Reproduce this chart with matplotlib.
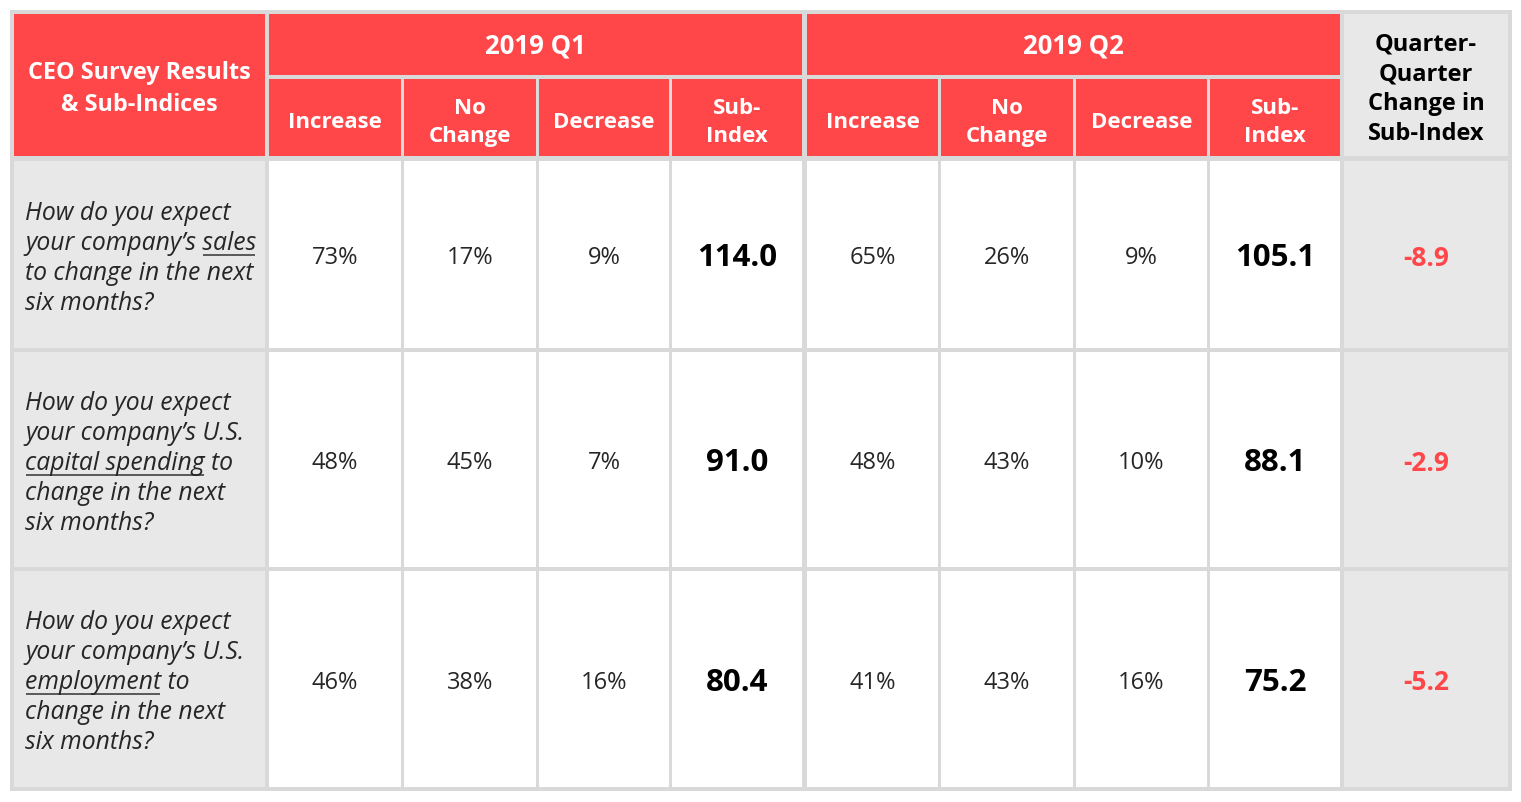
import matplotlib
matplotlib.use('Agg')
import matplotlib.pyplot as plt
from matplotlib.patches import Rectangle

# Data
quarters = ['2019 Q1', '2019 Q2']
sub_headers = ['Increase', 'No\nChange', 'Decrease', 'Sub-\nIndex']
corner_header = 'CEO Survey Results\n& Sub-Indices'
change_header = 'Quarter-\nQuarter\nChange in\nSub-Index'

# question lines, underlined word per row
questions = [
    ['How do you expect', "your company\u2019s sales", 'to change in the next', 'six months?'],
    ['How do you expect', "your company\u2019s U.S.", 'capital spending to', 'change in the next', 'six months?'],
    ['How do you expect', "your company\u2019s U.S.", 'employment to', 'change in the next', 'six months?'],
]
underlined = ['sales', 'capital spending', 'employment']

q1_increase = [73, 48, 46]
q1_nochange = [17, 45, 38]
q1_decrease = [9, 7, 16]
q1_subindex = [114.0, 91.0, 80.4]
q2_increase = [65, 48, 41]
q2_nochange = [26, 43, 43]
q2_decrease = [9, 10, 16]
q2_subindex = [105.1, 88.1, 75.2]
qq_change = [-8.9, -2.9, -5.2]

# Layout (pixels)
W, H = 1521, 803
col_x = [(14, 265), (269, 401), (404, 536), (539, 669), (672, 802),
         (807, 938), (941, 1073), (1076, 1207), (1210, 1340), (1344, 1508)]
head1 = (15, 76)
head2 = (80, 157)
row_y = [(162, 349), (353, 568), (572, 788)]

RED = '#FF474A'
GRAY = '#E8E8E8'
LINE = '#D9D9D9'
FONT = 'Open Sans'
QSIZE = 17.8

fig = plt.figure(figsize=(W / 100, H / 100), dpi=100)
ax = fig.add_axes([0, 0, 1, 1])
ax.set_xlim(0, W)
ax.set_ylim(H, 0)
ax.axis('off')


def cell(x0, x1, y0, y1, color):
    ax.add_patch(Rectangle((x0, y0), x1 - x0, y1 - y0, facecolor=color,
                           edgecolor='none'))


# table background acts as the grid lines
cell(10, 1512, 11, 792, LINE)

# header: corner
cell(col_x[0][0], col_x[0][1], head1[0], head2[1], RED)
ax.text(sum(col_x[0]) / 2, 89, corner_header, ha='center', va='center',
        color='white', fontsize=16.8, fontweight='bold', family=FONT,
        linespacing=1.42)

# header: quarters
for qi, q in enumerate(quarters):
    c0 = 1 + qi * 4
    x0, x1 = col_x[c0][0], col_x[c0 + 3][1]
    cell(x0, x1, head1[0], head1[1], RED)
    ax.text((x0 + x1) / 2, sum(head1) / 2 + 1, q, ha='center', va='center',
            color='white', fontsize=18.5, fontweight='bold', family=FONT)
    for si, s in enumerate(sub_headers):
        cx0, cx1 = col_x[c0 + si]
        cell(cx0, cx1, head2[0], head2[1], RED)
        ax.text((cx0 + cx1) / 2, sum(head2) / 2 + 4, s, ha='center',
                va='center', color='white', fontsize=16, fontweight='bold',
                family=FONT, linespacing=1.38)

# header: change column
cell(col_x[9][0], col_x[9][1], head1[0], head2[1], GRAY)
ax.text(sum(col_x[9]) / 2, 89, change_header, ha='center', va='center',
        color='black', fontsize=17, fontweight='bold', family=FONT,
        linespacing=1.33)

# body
fig.canvas.draw()
renderer = fig.canvas.get_renderer()


def text_width(s):
    t = ax.text(0, 0, s, fontsize=QSIZE, style='italic', family=FONT)
    w = t.get_window_extent(renderer).width
    t.remove()
    return w


cols = [q1_increase, q1_nochange, q1_decrease, q1_subindex,
        q2_increase, q2_nochange, q2_decrease, q2_subindex]

for r, (y0, y1) in enumerate(row_y):
    yc = (y0 + y1) / 2
    # question cell
    cell(col_x[0][0], col_x[0][1], y0, y1, GRAY)
    lines = questions[r]
    lh = 30
    top = yc - lh * (len(lines) - 1) / 2 + 3
    for li, line in enumerate(lines):
        ly = top + li * lh
        ax.text(25, ly, line, ha='left', va='center', color='#262626',
                fontsize=QSIZE, style='italic', family=FONT)
        word = underlined[r]
        if word in line:
            pre = line[:line.index(word)]
            start = 25
            if pre:
                # trailing spaces are not measured, use a stand-in glyph
                start += text_width(pre + 'a') - text_width('a')
            wpx = text_width(word)
            ax.plot([start + 1, start + wpx - 1], [ly + 12, ly + 12],
                    color='#404040', lw=1.2, solid_capstyle='butt')

    # value cells
    for ci, vals in enumerate(cols):
        x0, x1 = col_x[ci + 1]
        cell(x0, x1, y0, y1, 'white')
        if ci in (3, 7):
            ax.text((x0 + x1) / 2, yc + 3, f'{vals[r]:.1f}', ha='center',
                    va='center', color='black', fontsize=22.5,
                    fontweight='bold', family=FONT)
        else:
            ax.text((x0 + x1) / 2, yc + 3, f'{vals[r]}%', ha='center',
                    va='center', color='#262626', fontsize=17, family=FONT)

    # change cell
    x0, x1 = col_x[9]
    cell(x0, x1, y0, y1, GRAY)
    ax.text((x0 + x1) / 2, yc + 3, f'{qq_change[r]:.1f}', ha='center',
            va='center', color=RED, fontsize=19, fontweight='bold',
            family=FONT)

plt.savefig('out.png', dpi=100, facecolor='white')
